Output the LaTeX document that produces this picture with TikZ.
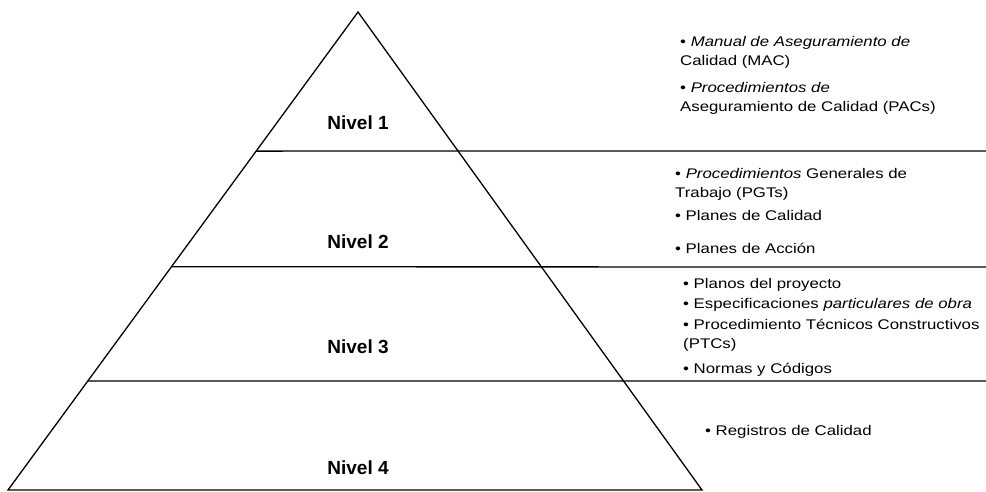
\documentclass[tikz,border=0pt]{standalone}
\usepackage{fontspec}
\setmainfont{Liberation Sans}
\newfontfamily\itemfont[FakeStretch=1.2]{Liberation Sans}
\usetikzlibrary{calc}

\begin{document}
\begin{tikzpicture}[x=1pt,y=-1pt,
  nivel/.style={font=\fontsize{19}{22}\selectfont\bfseries,inner sep=0pt},
  item/.style={font=\itemfont\fontsize{14}{19}\selectfont,anchor=west,align=left,inner sep=0pt},
  trazo/.style={black,line width=1.3pt}]
  \useasboundingbox (0,0) rectangle (986,491);
  % pyramid
  \coordinate (apex) at (358,12);
  \coordinate (bl) at (8,490);
  \coordinate (br) at (702,490);
  \draw[trazo,line join=miter] (bl) -- (apex) -- (br) -- cycle;
  % level separators
  \coordinate (l1) at ($(apex)!0.291!(bl)$);
  \coordinate (l2) at ($(apex)!0.533!(bl)$);
  \coordinate (l3) at ($(apex)!0.772!(bl)$);
  \coordinate (e1) at (986,151);
  \coordinate (e2) at (986,267);
  \coordinate (e3) at (986,381);
  \draw[trazo] (l1) -- (e1);
  \draw[trazo] (l2) -- (e2);
  \draw[trazo] (l3) -- (e3);
  % levels
  \node[nivel] (n1) at (358,123) {Nivel 1};
  \node[nivel] (n2) at (358,242) {Nivel 2};
  \node[nivel] (n3) at (358,347) {Nivel 3};
  \node[nivel] (n4) at (358,468) {Nivel 4};
  % documents of each level
  \node[item] (mac) at (680,52) {• \textit{Manual de Aseguramiento de}\\Calidad (MAC)};
  \node[item] (pac) at (680,98) {• \textit{Procedimientos de}\\Aseguramiento de Calidad (PACs)};
  \node[item] (pgt) at (675,184) {• \textit{Procedimientos} Generales de\\Trabajo (PGTs)};
  \node[item] (pcal) at (675,215) {• Planes de Calidad};
  \node[item] (pacc) at (675,248) {• Planes de Acción};
  \node[item] (plan) at (683,285) {• Planos del proyecto};
  \node[item] (espe) at (683,305) {• Especificaciones \textit{particulares de obra}};
  \node[item] (ptc) at (683,335) {• Procedimiento Técnicos Constructivos\\(PTCs)};
  \node[item] (norm) at (683,370) {• Normas y Códigos};
  \node[item] (reg) at (705,432) {• Registros de Calidad};
\end{tikzpicture}
\end{document}
